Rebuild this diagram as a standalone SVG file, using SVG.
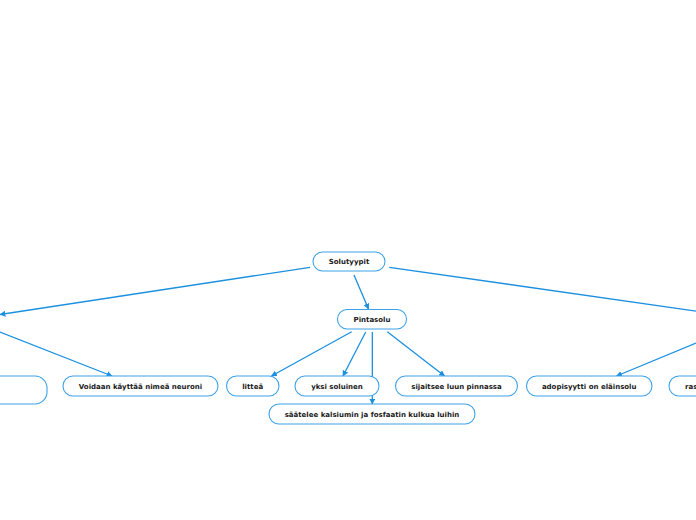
<svg xmlns="http://www.w3.org/2000/svg" width="696" height="520" viewBox="0 0 696 520">
<defs>
<style>
.box{fill:#fff;stroke:#3da2e8;stroke-width:1.1}
.lbl{font-family:"DejaVu Sans",Verdana,sans-serif;font-weight:bold;font-size:7px;fill:#1a1a1a;text-anchor:middle}
.edge{stroke:#1b90e0;stroke-width:1.3;fill:none;marker-end:url(#arr)}
</style>
<marker id="arr" viewBox="0 0 10 10" refX="9" refY="5" markerWidth="6" markerHeight="6" markerUnits="userSpaceOnUse" orient="auto">
<path d="M0,0 L10,5 L0,10 z" fill="#1b90e0"/>
</marker>
</defs>
<rect width="696" height="520" fill="#fff"/>
<g id="connectors">
<line class="edge" x1="310" y1="267.3" x2="0" y2="314.5"/>
<line class="edge" x1="0" y1="332" x2="112" y2="376"/>
<line class="edge" x1="354" y1="275" x2="368.5" y2="309"/>
<line class="edge" x1="389.3" y1="267.3" x2="704" y2="312.2"/>
<line class="edge" x1="696" y1="343" x2="616.5" y2="376"/>
<line class="edge" x1="351.7" y1="331.7" x2="271.5" y2="376"/>
<line class="edge" x1="365.7" y1="332" x2="343" y2="376"/>
<line class="edge" x1="372.3" y1="332" x2="372.3" y2="404"/>
<line class="edge" x1="387.3" y1="331.7" x2="444.5" y2="376"/>
</g>
<g id="n-solutyypit"><rect class="box" x="313" y="252" width="72" height="19" rx="9.5"/><text class="lbl" x="349" y="264">Solutyypit</text></g>
<g id="n-pintasolu"><rect class="box" x="337.5" y="309.5" width="69" height="19.5" rx="9.5"/><text class="lbl" x="372" y="321.7">Pintasolu</text></g>
<g id="n-left"><rect class="box" x="-80" y="376" width="127" height="28" rx="12"/></g>
<g id="n-voidaan"><rect class="box" x="63" y="376" width="155" height="20" rx="10"/><text class="lbl" x="140.5" y="388.5">Voidaan käyttää nimeä neuroni</text></g>
<g id="n-littea"><rect class="box" x="226.5" y="376" width="52.5" height="20" rx="10"/><text class="lbl" x="252.7" y="388.5">litteä</text></g>
<g id="n-yksi"><rect class="box" x="295" y="376" width="84" height="20" rx="10"/><text class="lbl" x="337" y="388.5">yksi soluinen</text></g>
<g id="n-sijaitsee"><rect class="box" x="395.5" y="376" width="122" height="20" rx="10"/><text class="lbl" x="456.5" y="388.5">sijaitsee luun pinnassa</text></g>
<g id="n-saatelee"><rect class="box" x="269" y="404" width="206" height="20" rx="10"/><text class="lbl" x="372" y="416.5">säätelee kalsiumin ja fosfaatin kulkua luihin</text></g>
<g id="n-adopisyytti"><rect class="box" x="526.5" y="376" width="125.5" height="20" rx="10"/><text class="lbl" x="589.2" y="388.5">adopisyytti on eläinsolu</text></g>
<g id="n-ras"><rect class="box" x="669" y="376" width="80" height="20" rx="10"/><text class="lbl" x="685" y="388.5" style="text-anchor:start">ras</text></g>
</svg>
